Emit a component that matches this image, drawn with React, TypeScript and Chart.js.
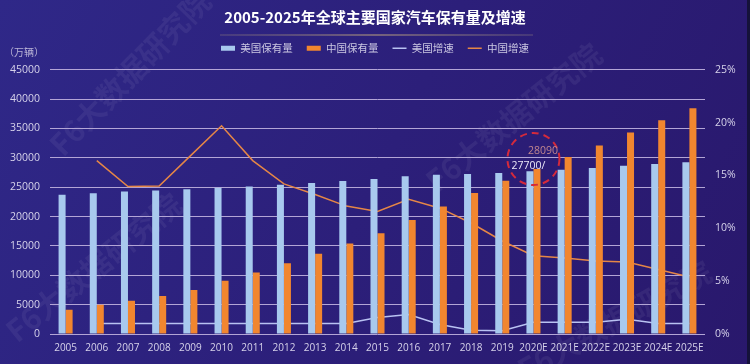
import React, { useEffect, useRef } from 'react';
import { Chart, registerables } from 'chart.js';

Chart.register(...registerables);

const categories = ['2005', '2006', '2007', '2008', '2009', '2010', '2011', '2012', '2013', '2014', '2015', '2016', '2017', '2018', '2019', '2020E', '2021E', '2022E', '2023E', '2024E', '2025E'];
const usStock = [23700, 23950, 24250, 24450, 24650, 24900, 25100, 25400, 25700, 26050, 26400, 26850, 27100, 27250, 27400, 27700, 27950, 28250, 28650, 28950, 29250];
const cnStock = [4150, 5000, 5650, 6450, 7500, 9050, 10450, 12050, 13650, 15400, 17150, 19400, 21700, 24000, 26100, 28090, 30150, 32100, 34300, 36400, 38450];
const usGrowth = [null, 1.0, 1.0, 1.0, 1.0, 1.0, 1.0, 1.0, 1.0, 1.0, 1.55, 1.85, 0.9, 0.35, 0.3, 1.1, 1.1, 1.1, 1.4, 1.0, 1.0];
const cnGrowth = [null, 16.4, 13.95, 14.0, 16.85, 19.7, 16.4, 14.2, 13.2, 12.1, 11.6, 12.75, 11.9, 10.5, 8.8, 7.4, 7.2, 6.9, 6.8, 6.1, 5.4];
const leftTicks = [0, 5000, 10000, 15000, 20000, 25000, 30000, 35000, 40000, 45000];
const rightTicks = [0, 5, 10, 15, 20, 25];
const seriesNames = ['美国保有量', '中国保有量', '美国增速', '中国增速'];
const titleText = '2005-2025年全球主要国家汽车保有量及增速';
const unitText = '（万辆）';
const calloutIndex = 15;
const calloutUs = '27700/';
const calloutCn = '28090';
const watermark = 'F6大数据研究院';

const FONT = "'Open Sans', 'Noto Sans CJK SC', sans-serif";
const CJK = "'Noto Sans CJK SC', 'Noto Sans', sans-serif";

const bgPlugin = {
  id: 'bg',
  beforeDraw(chart: any) {
    const { ctx, width, height } = chart;
    ctx.save();
    const g = ctx.createLinearGradient(0, 0, width, height);
    g.addColorStop(0, '#2f2888');
    g.addColorStop(0.5, '#2c1f7a');
    g.addColorStop(1, '#29186c');
    ctx.fillStyle = g;
    ctx.fillRect(0, 0, width, height);
    // watermarks
    ctx.fillStyle = 'rgba(255,255,255,0.06)';
    ctx.font = `bold 30px ${CJK}`;
    const marks = [
      [55, 150, -0.8],
      [10, 335, -0.68],
      [430, 185, -0.68],
      [520, 372, -0.5],
    ];
    marks.forEach(([x, y, r]) => {
      ctx.save();
      ctx.translate(x, y);
      ctx.rotate(r);
      ctx.fillText(watermark, 0, 0);
      ctx.restore();
    });
    ctx.fillStyle = '#15123a';
    ctx.fillRect(width - 3, 0, 3, height);
    ctx.restore();
  },
};

const decoPlugin = {
  id: 'deco',
  afterDraw(chart: any) {
    const { ctx } = chart;
    const x = chart.scales.x;
    const y = chart.scales.y;
    ctx.save();
    // title underline
    const lg = ctx.createLinearGradient(220, 0, 533, 0);
    lg.addColorStop(0, 'rgba(110,95,125,0.4)');
    lg.addColorStop(0.5, 'rgba(125,105,125,0.9)');
    lg.addColorStop(1, 'rgba(110,95,125,0.4)');
    ctx.strokeStyle = lg;
    ctx.lineWidth = 2;
    ctx.beginPath();
    ctx.moveTo(220, 35);
    ctx.lineTo(533, 35);
    ctx.stroke();
    // unit label
    ctx.fillStyle = '#b9b3d6';
    ctx.font = `10px ${CJK}`;
    ctx.textBaseline = 'middle';
    ctx.textAlign = 'left';
    ctx.fillText(unitText, 4, 52);
    // callout
    const cx = x.getPixelForValue(calloutIndex);
    const cy = y.getPixelForValue(cnStock[calloutIndex]) - 10;
    ctx.strokeStyle = '#d42a3c';
    ctx.lineWidth = 2;
    ctx.setLineDash([7, 5]);
    ctx.beginPath();
    ctx.arc(cx, cy, 26, 0, Math.PI * 2);
    ctx.stroke();
    ctx.setLineDash([]);
    ctx.font = `10.5px ${FONT}`;
    ctx.textAlign = 'center';
    ctx.fillStyle = '#c0868f';
    ctx.fillText(calloutCn, cx + 9.5, cy - 8.5);
    ctx.fillStyle = '#ebe8f7';
    ctx.fillText(calloutUs, cx - 5, cy + 6.5);
    ctx.restore();
  },
};

export default function App() {
  const ref = useRef<HTMLCanvasElement>(null);
  useEffect(() => {
    document.body.style.margin = '0';
    const canvas = ref.current as HTMLCanvasElement;
    const chart = new Chart(canvas, {
      type: 'bar',
      data: {
        labels: categories,
        datasets: [
          {
            type: 'bar',
            label: seriesNames[0],
            data: usStock,
            backgroundColor: '#a8c9ee',
            borderWidth: 0,
            yAxisID: 'y',
            categoryPercentage: 0.45,
            barPercentage: 1.0,
          },
          {
            type: 'bar',
            label: seriesNames[1],
            data: cnStock,
            backgroundColor: '#f1862f',
            borderWidth: 0,
            yAxisID: 'y',
            categoryPercentage: 0.45,
            barPercentage: 1.0,
          },
          {
            type: 'line',
            label: seriesNames[2],
            data: usGrowth,
            borderColor: '#b9c2f2',
            backgroundColor: '#b9c2f2',
            borderWidth: 1.5,
            pointRadius: 0,
            tension: 0,
            yAxisID: 'y1',
          },
          {
            type: 'line',
            label: seriesNames[3],
            data: cnGrowth,
            borderColor: '#e58646',
            backgroundColor: '#e58646',
            borderWidth: 1.5,
            pointRadius: 0,
            tension: 0,
            yAxisID: 'y1',
          },
        ] as any,
      },
      options: {
        responsive: false,
        animation: false,
        devicePixelRatio: 1,
        layout: { padding: { top: 0, bottom: 2, left: 0, right: 0 } },
        plugins: {
          title: {
            display: true,
            text: titleText,
            color: '#ffffff',
            font: { family: CJK, size: 15, weight: 'bold' },
            padding: { top: 8, bottom: 3 },
          },
          subtitle: {
            display: true,
            text: '',
            weight: 500,
            font: { size: 1 },
            padding: { top: 0, bottom: 5 },
          } as any,
          legend: {
            display: true,
            position: 'top',
            labels: {
              color: '#cbc7e2',
              font: { family: CJK, size: 10.5 },
              usePointStyle: true,
              pointStyleWidth: 14,
              boxHeight: 5,
              padding: 14,
              sort: (a: any, b: any) => a.datasetIndex - b.datasetIndex,
              generateLabels: (ch: any) => {
                const items = Chart.defaults.plugins.legend.labels.generateLabels(ch);
                return items.map((it: any) => {
                  const isLine = it.datasetIndex >= 2;
                  return {
                    ...it,
                    pointStyle: isLine ? 'line' : 'rect',
                    lineWidth: isLine ? 1.5 : 0,
                    strokeStyle: isLine ? ch.data.datasets[it.datasetIndex].borderColor : 'rgba(0,0,0,0)',
                  };
                });
              },
            },
          },
          tooltip: { enabled: false },
        },
        scales: {
          x: {
            grid: { display: false, drawTicks: false },
            border: { display: false },
            ticks: {
              color: '#d6d2ea',
              font: { family: FONT, size: 10 },
              padding: 8,
              maxRotation: 0,
              autoSkip: false,
            },
          },
          y: {
            position: 'left',
            min: 0,
            max: 45000,
            afterBuildTicks: (s: any) => {
              s.ticks = leftTicks.map((v) => ({ value: v }));
            },
            afterFit: (s: any) => {
              s.width = 50;
            },
            grid: { color: '#b3a5d6', lineWidth: 1, drawTicks: false },
            border: { display: false },
            ticks: {
              color: '#d6d2ea',
              font: { family: FONT, size: 10.5 },
              padding: 10,
              callback: (v: any) => String(v),
            },
          },
          y1: {
            position: 'right',
            min: 0,
            max: 25,
            afterBuildTicks: (s: any) => {
              s.ticks = rightTicks.map((v) => ({ value: v }));
            },
            afterFit: (s: any) => {
              s.width = 45;
            },
            grid: { display: false, drawTicks: false },
            border: { display: false },
            ticks: {
              color: '#d6d2ea',
              font: { family: FONT, size: 10.5 },
              padding: 10,
              callback: (v: any) => `${v}%`,
            },
          },
        },
      } as any,
      plugins: [bgPlugin, decoPlugin],
    });
    return () => chart.destroy();
  }, []);
  return (
    <div style={{ width: 750, height: 364 }}>
      <canvas ref={ref} width={750} height={364} style={{ display: 'block', width: 750, height: 364 }} />
    </div>
  );
}
